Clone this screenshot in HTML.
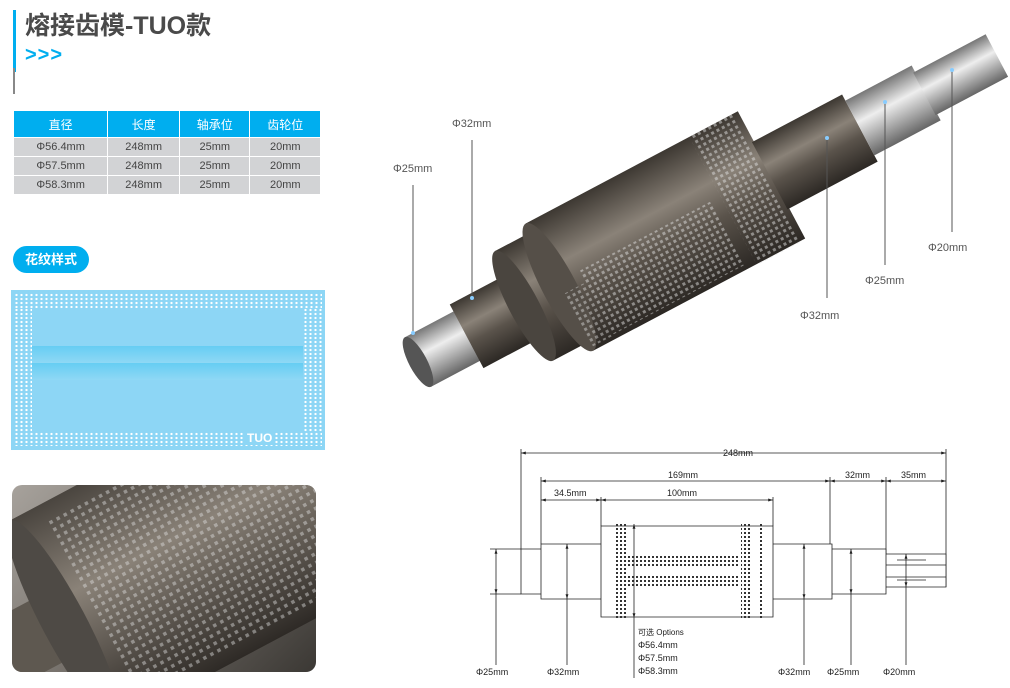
<!DOCTYPE html>
<html><head><meta charset="utf-8"><style>
html,body{margin:0;width:1010px;height:688px;background:#fff;position:relative;overflow:hidden;font-family:"Liberation Sans","Noto Sans CJK SC",sans-serif}
.a{position:absolute}
table{border-collapse:collapse;position:absolute;left:13px;top:110px;width:308px;font-size:11px;color:#444}
td,th{border:1px solid #fff;text-align:center;padding:0;height:18px}
th{background:#00aeef;color:#fff;font-weight:normal;font-size:12px;height:26px}
td{background:#d2d3d5}
.dots{background-image:radial-gradient(circle,#fff 1px,transparent 1.3px);background-size:5px 4px}
</style></head><body>
<div class="a" style="left:13px;top:10px;width:3px;height:62px;background:#00aeef"></div>
<div class="a" style="left:13px;top:68px;width:2px;height:26px;background:#888"></div>
<div class="a" style="left:25px;top:6px;font-size:25px;font-weight:bold;color:#4a4a4a">熔接齿模-TUO款</div>
<div class="a" style="left:25px;top:44px;color:#00aeef;font-size:20px;font-weight:bold;letter-spacing:1px">&gt;&gt;&gt;</div>
<table><tr><th>直径</th><th>长度</th><th>轴承位</th><th>齿轮位</th></tr>
<tr><td>Φ56.4mm</td><td>248mm</td><td>25mm</td><td>20mm</td></tr>
<tr><td>Φ57.5mm</td><td>248mm</td><td>25mm</td><td>20mm</td></tr>
<tr><td>Φ58.3mm</td><td>248mm</td><td>25mm</td><td>20mm</td></tr></table>
<div class="a" style="left:13px;top:246px;width:76px;height:27px;border-radius:14px;background:#00aeef;color:#fff;font-size:13px;font-weight:bold;text-align:center;line-height:27px">花纹样式</div>
<div class="a" style="left:11px;top:290px;width:314px;height:160px;background:#8dd6f5"></div>
<div class="a dots" style="left:14px;top:293px;width:308px;height:15px"></div>
<div class="a dots" style="left:14px;top:432px;width:308px;height:14px"></div>
<div class="a dots" style="left:14px;top:308px;width:18px;height:124px"></div>
<div class="a dots" style="left:303px;top:308px;width:19px;height:124px"></div>
<div class="a" style="left:32px;top:346px;width:271px;height:17px;background:linear-gradient(#66cdf3,#8fd8f5)"></div>
<div class="a" style="left:32px;top:363px;width:271px;height:17px;background:linear-gradient(#66cdf3,#8fd8f5)"></div>
<div class="a" style="left:244px;top:431px;color:#fff;font-size:12px;font-weight:bold;background:#8dd6f5;padding:0 3px">TUO</div>
<div class="a" style="left:12px;top:485px;width:304px;height:187px;border-radius:10px;overflow:hidden;background:linear-gradient(135deg,#a7a29c,#7a756f 45%,#3b3834)">
<svg width="304" height="187"><defs><pattern id="k" width="8" height="8" patternUnits="userSpaceOnUse"><rect width="3.5" height="3.5" fill="#ddd"/></pattern>
<linearGradient id="q" x1="0" y1="0" x2="0" y2="1"><stop offset="0" stop-color="#4a453f"/><stop offset=".4" stop-color="#8a8278"/><stop offset="1" stop-color="#2e2a26"/></linearGradient></defs>
<g transform="translate(-10,170) rotate(-28)">
<rect x="-20" y="-35" width="120" height="70" fill="#5e5850"/>
<rect x="60" y="-115" width="400" height="230" fill="url(#q)"/>
<ellipse cx="70" cy="0" rx="22" ry="115" fill="#4e4a45"/>
<rect x="100" y="-100" width="320" height="200" fill="url(#k)" opacity=".45"/>
</g></svg></div>
<svg class="a" style="left:0;top:0" width="1010" height="688">
<defs>
<linearGradient id="m" x1="0" y1="0" x2="0" y2="1"><stop offset="0" stop-color="#3d3832"/><stop offset=".35" stop-color="#8a8278"/><stop offset=".6" stop-color="#5a534b"/><stop offset="1" stop-color="#2c2824"/></linearGradient>
<linearGradient id="s" x1="0" y1="0" x2="0" y2="1"><stop offset="0" stop-color="#777"/><stop offset=".4" stop-color="#eee"/><stop offset="1" stop-color="#666"/></linearGradient>
<pattern id="t" width="6" height="6" patternUnits="userSpaceOnUse"><rect width="3" height="3" fill="#ddd"/></pattern>
<pattern id="t2" width="4" height="4" patternUnits="userSpaceOnUse"><rect width="2" height="2" fill="#333"/></pattern>
<marker id="ar" viewBox="0 0 10 10" refX="10" refY="5" markerWidth="6" markerHeight="6" orient="auto-start-reverse"><path d="M0 2L10 5L0 8Z" fill="#222"/></marker>
</defs>
<g transform="translate(418,362) rotate(-27.9)">
<rect x="0" y="-28" width="60" height="56" fill="url(#s)"/>
<ellipse cx="0" cy="0" rx="9" ry="28" fill="#555"/>
<rect x="55" y="-36" width="75" height="72" fill="url(#m)"/>
<rect x="120" y="-62" width="45" height="124" fill="url(#m)"/>
<ellipse cx="120" cy="0" rx="15" ry="62" fill="#4a453f"/>
<rect x="160" y="-72" width="240" height="144" fill="url(#m)"/>
<ellipse cx="160" cy="0" rx="17" ry="72" fill="#554f48"/>
<rect x="185" y="-5" width="150" height="72" fill="url(#t)" opacity=".5"/>
<rect x="160" y="8" width="25" height="60" fill="url(#t)" opacity=".45"/>
<rect x="345" y="-73" width="50" height="146" fill="url(#t)" opacity=".5"/>
<rect x="398" y="-38" width="102" height="76" fill="url(#m)"/>
<rect x="500" y="-31" width="75" height="62" fill="url(#s)"/>
<rect x="573" y="-24" width="82" height="48" fill="url(#s)"/>
</g>
<g stroke="#555" stroke-width="1" fill="#555" font-size="11" font-family="Liberation Sans">
<line x1="472" y1="140" x2="472" y2="298"/><circle cx="472" cy="298" r="2" fill="#8cf" stroke="none"/>
<line x1="413" y1="185" x2="413" y2="333"/><circle cx="413" cy="333" r="2" fill="#8cf" stroke="none"/>
<line x1="827" y1="138" x2="827" y2="298"/><circle cx="827" cy="138" r="2" fill="#8cf" stroke="none"/>
<line x1="885" y1="102" x2="885" y2="265"/><circle cx="885" cy="102" r="2" fill="#8cf" stroke="none"/>
<line x1="952" y1="70" x2="952" y2="232"/><circle cx="952" cy="70" r="2" fill="#8cf" stroke="none"/>
<text x="452" y="127" stroke="none">Φ32mm</text><text x="393" y="172" stroke="none">Φ25mm</text>
<text x="928" y="251" stroke="none">Φ20mm</text><text x="865" y="284" stroke="none">Φ25mm</text><text x="800" y="319" stroke="none">Φ32mm</text>
</g>
<g stroke="#222" stroke-width="0.8" fill="none" font-family="Liberation Sans" font-size="9">
<path d="M521 449V549M946 449V587M541 477V544M601 497V526M773 497V526M830 477V544M886 477V554"/>
<path d="M521 549H541V594H521ZM541 544H601V599H541ZM601 526H773V617H601ZM773 544H832V599H773ZM832 549H886V594H832ZM886 554H946V587H886Z" fill="#fff"/>
<path d="M886 565H946M886 577H946M490 549H521M490 594H521"/>
<path d="M897 560H926M897 580H926"/>
<rect x="615" y="523" width="13" height="97" fill="url(#t2)" stroke="none"/>
<rect x="628" y="554" width="110" height="12" fill="url(#t2)" stroke="none"/>
<rect x="628" y="574" width="110" height="12" fill="url(#t2)" stroke="none"/>
<rect x="741" y="524" width="9" height="95" fill="url(#t2)" stroke="none"/>
<rect x="758" y="524" width="6" height="95" fill="url(#t2)" stroke="none"/>
<g marker-start="url(#ar)" marker-end="url(#ar)">
<path d="M521 453H946"/><path d="M541 481H830"/><path d="M830 481H886"/><path d="M886 481H946"/><path d="M541 500H601"/><path d="M601 500H773"/>
<path d="M496 549V594"/><path d="M567 544V599"/><path d="M634 524V618"/><path d="M804 544V599"/><path d="M851 549V594"/><path d="M906 554V587"/>
</g>
<line x1="496" y1="594" x2="496" y2="665"/><line x1="567" y1="599" x2="567" y2="665"/><line x1="634" y1="618" x2="634" y2="678"/><line x1="804" y1="599" x2="804" y2="665"/><line x1="851" y1="594" x2="851" y2="665"/><line x1="906" y1="587" x2="906" y2="665"/>
<g fill="#222" stroke="none">
<text x="723" y="456">248mm</text><text x="668" y="478">169mm</text><text x="845" y="478">32mm</text><text x="901" y="478">35mm</text>
<text x="554" y="496">34.5mm</text><text x="667" y="496">100mm</text>
<text x="476" y="675">Φ25mm</text><text x="547" y="675">Φ32mm</text><text x="778" y="675">Φ32mm</text><text x="827" y="675">Φ25mm</text><text x="883" y="675">Φ20mm</text>
<text x="638" y="635" font-size="8">可选 Options</text><text x="638" y="648">Φ56.4mm</text><text x="638" y="661">Φ57.5mm</text><text x="638" y="674">Φ58.3mm</text>
</g></g>
</svg>
</body></html>
